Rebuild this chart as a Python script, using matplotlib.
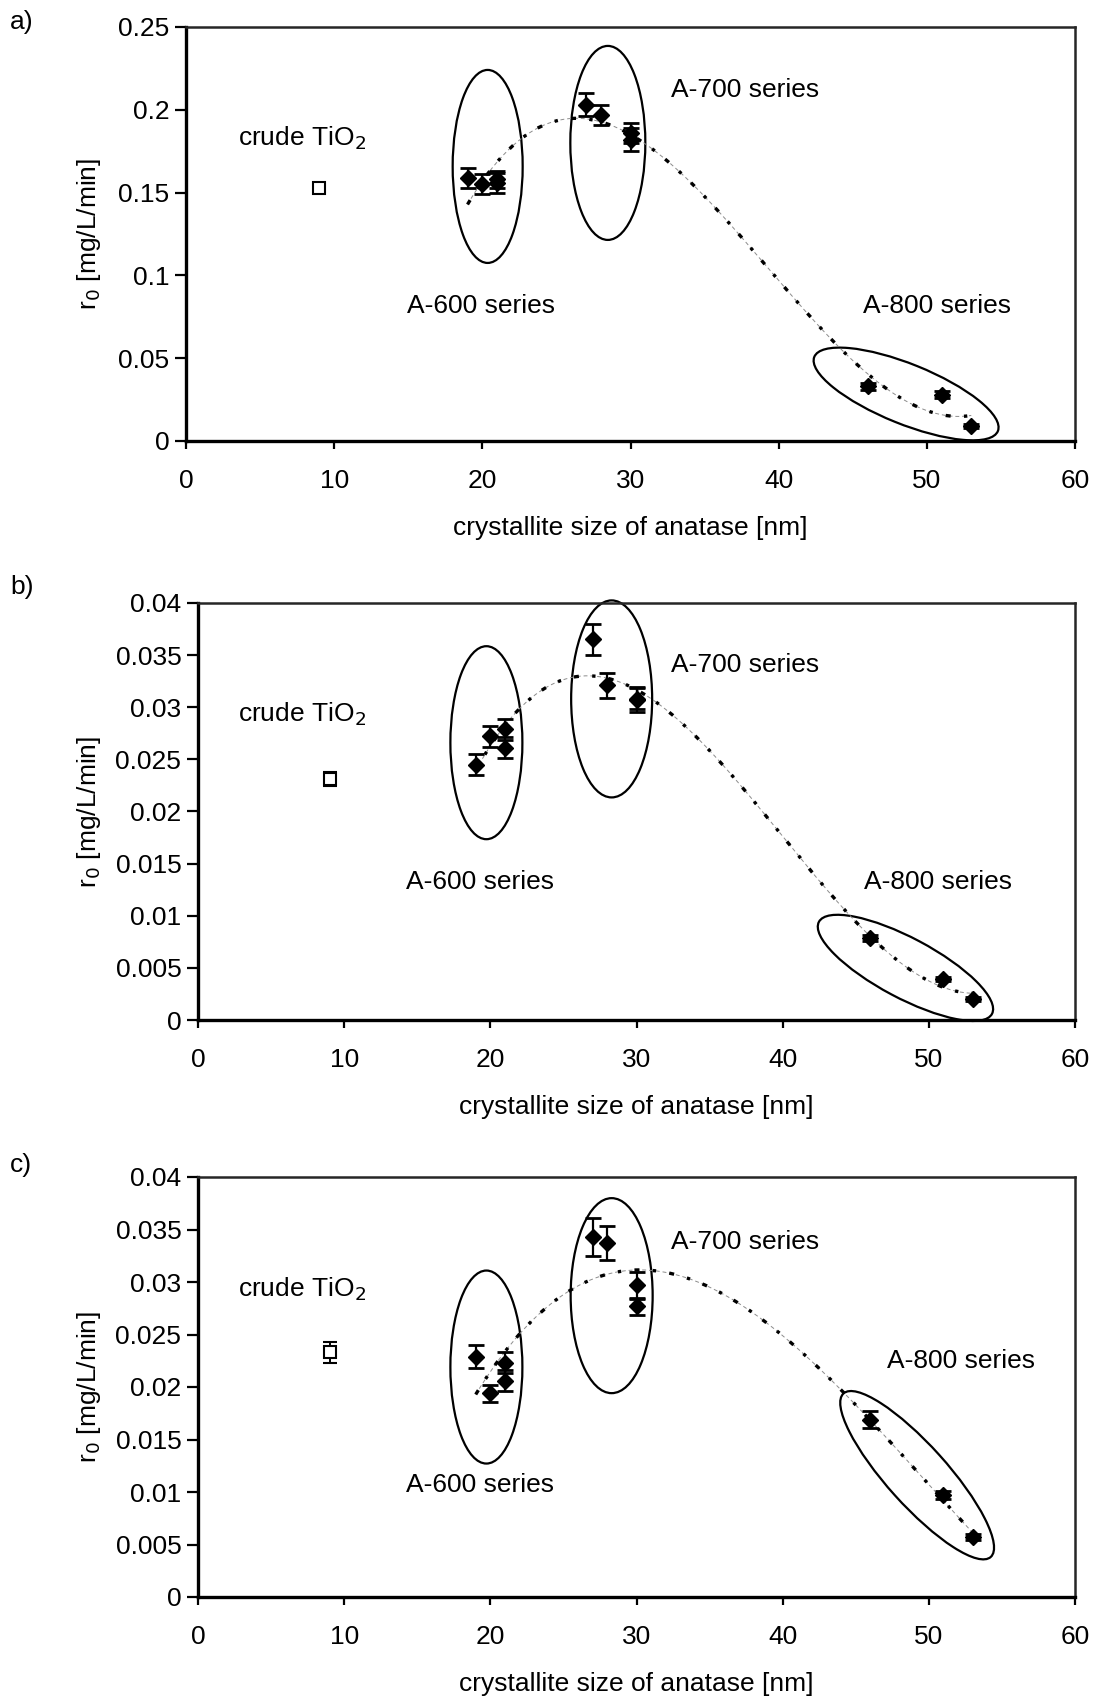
import matplotlib.pyplot as plt
import numpy as np
from matplotlib.patches import Ellipse
from matplotlib.transforms import ScaledTranslation

plt.rcParams['font.family'] = ['Liberation Sans', 'DejaVu Sans']

# crystallite size of the modified samples (A-600, A-700, A-800 series)
size_nm = [19, 20, 21, 21, 27, 28, 30, 30, 46, 51, 53]
crude_size = 9

# panel a
r0_a = [0.159, 0.155, 0.156, 0.158, 0.203, 0.197, 0.186, 0.182, 0.033, 0.028, 0.009]
err_a = [0.006, 0.006, 0.006, 0.005, 0.007, 0.006, 0.006, 0.007, 0.002, 0.002, 0.001]
crude_a, crude_err_a = 0.153, 0.003

# panel b
r0_b = [0.0245, 0.0272, 0.0261, 0.0279, 0.0365, 0.0321, 0.0307, 0.0308, 0.0079, 0.0039, 0.0020]
err_b = [0.0010, 0.0010, 0.0010, 0.0010, 0.0015, 0.0012, 0.0012, 0.0010, 0.0003, 0.0002, 0.0002]
crude_b, crude_err_b = 0.0231, 0.0007

# panel c
r0_c = [0.0229, 0.0194, 0.0206, 0.0223, 0.0343, 0.0337, 0.0297, 0.0277, 0.0169, 0.0097, 0.0057]
err_c = [0.0011, 0.0008, 0.0010, 0.0010, 0.0018, 0.0016, 0.0013, 0.0008, 0.0008, 0.0004, 0.0003]
crude_c, crude_err_c = 0.0233, 0.0010

yticks_a = [0, 0.05, 0.1, 0.15, 0.2, 0.25]
ytick_labels_a = ['0', '0.05', '0.1', '0.15', '0.2', '0.25']
yticks_bc = [0, 0.005, 0.01, 0.015, 0.02, 0.025, 0.03, 0.035, 0.04]
ytick_labels_bc = ['0', '0.005', '0.01', '0.015', '0.02', '0.025', '0.03', '0.035', '0.04']

W, H = 1095, 1696
FS = 19
fig = plt.figure(figsize=(W / 100, H / 100), dpi=100)


def px_axes(left, right, top, bottom):
    return fig.add_axes([left / W, 1 - bottom / H, (right - left) / W, (bottom - top) / H])


def ellipse(ax, cx, cy, w, h, ang=0):
    # size in pixels, centre in data coords
    tr = fig.dpi_scale_trans + ScaledTranslation(cx, cy, ax.transData)
    ax.add_patch(Ellipse((0, 0), w / 100, h / 100, angle=ang, transform=tr,
                         fill=False, ec='black', lw=1.6, clip_on=False))


def panel(ax, r0, err, crude, crude_err, ymax, yticks, ylabels, label, label_y, texts, ells):
    x = np.array(size_nm)
    # polynomial trend line (3rd order) through the modified samples
    coef = np.polyfit(x, r0, 3)
    xs = np.linspace(19, 53, 200)
    ax.plot(xs, np.polyval(coef, xs), color='0.55', lw=0.7, ls=(0, (4, 3)))
    ax.plot(xs, np.polyval(coef, xs), color='black', lw=2.4, ls=(0, (1.5, 4, 1, 4)))

    ax.errorbar(size_nm, r0, yerr=err, fmt='D', color='black', ms=8,
                ecolor='black', elinewidth=1.6, capsize=6, capthick=2, zorder=4)
    ax.errorbar([crude_size], [crude], yerr=[crude_err], fmt='s', mfc='white', mec='black',
                ms=9, mew=1.5, ecolor='black', elinewidth=1.4, capsize=5, capthick=1.6, zorder=4)

    ax.set_xlim(0, 60)
    ax.set_ylim(0, ymax)
    ax.set_xticks(range(0, 61, 10))
    ax.set_yticks(yticks)
    ax.set_yticklabels(ylabels)
    ax.tick_params(axis='both', labelsize=FS, direction='out', width=1.6)
    ax.tick_params(axis='y', length=8, pad=4)
    ax.tick_params(axis='x', length=6, pad=14)
    for s in ['left', 'bottom']:
        ax.spines[s].set_linewidth(2.4)
    for s in ['top', 'right']:
        ax.spines[s].set_linewidth(1.8)
        ax.spines[s].set_color('0.15')
    ax.set_xlabel('crystallite size of anatase [nm]', fontsize=FS)
    ax.set_ylabel('r$_0$ [mg/L/min]', fontsize=FS)
    bb = ax.get_position()
    h_px = bb.height * H
    l_px = bb.x0 * W
    ax.xaxis.set_label_coords(0.5, -75 / h_px)
    ax.yaxis.set_label_coords((103 - l_px) / (bb.width * W), 0.5)
    fig.text(10 / W, label_y, label, fontsize=FS, va='center', ha='left')

    for (tx, ty, s) in texts:
        ax.text(tx, ty, s, fontsize=FS, ha='center', va='center')
    for e in ells:
        ellipse(ax, *e)


ax_a = px_axes(186, 1075, 27, 441)
panel(ax_a, r0_a, err_a, crude_a, crude_err_a, 0.25, yticks_a, ytick_labels_a, 'a)', 1 - 22 / H,
      [(7.8, 0.183, 'crude TiO$_2$'), (19.9, 0.0816, 'A-600 series'),
       (37.7, 0.212, 'A-700 series'), (50.7, 0.0816, 'A-800 series')],
      [(20.36, 0.1658, 70, 193), (28.47, 0.180, 75, 194), (48.6, 0.0284, 198, 60, -22)])

ax_b = px_axes(198, 1075, 603, 1020)
panel(ax_b, r0_b, err_b, crude_b, crude_err_b, 0.04, yticks_bc, ytick_labels_bc, 'b)', 1 - 587 / H,
      [(7.1, 0.0293, 'crude TiO$_2$'), (19.3, 0.01326, 'A-600 series'),
       (37.4, 0.0341, 'A-700 series'), (50.6, 0.01326, 'A-800 series')],
      [(19.73, 0.0266, 72, 193), (28.3, 0.0308, 81, 197), (48.4, 0.0050, 196, 60, -28)])

ax_c = px_axes(198, 1075, 1177, 1597)
panel(ax_c, r0_c, err_c, crude_c, crude_err_c, 0.04, yticks_bc, ytick_labels_bc, 'c)', 1 - 1165 / H,
      [(7.1, 0.0293, 'crude TiO$_2$'), (19.3, 0.0107, 'A-600 series'),
       (37.4, 0.0338, 'A-700 series'), (52.2, 0.02247, 'A-800 series')],
      [(19.73, 0.0219, 72, 193), (28.3, 0.0287, 82, 195), (49.2, 0.0116, 220, 60, -48)])

fig.savefig('out.png', dpi=100)
